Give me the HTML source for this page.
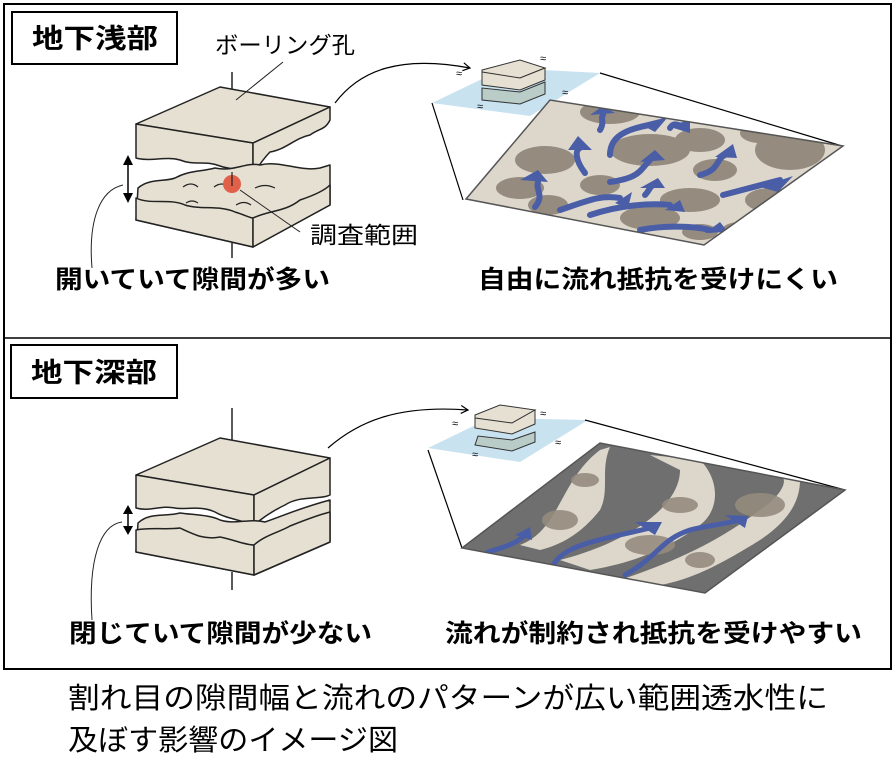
<!DOCTYPE html>
<html><head><meta charset="utf-8"><style>
html,body{margin:0;padding:0;background:#fff;}
svg{display:block;}
text{font-family:"Liberation Sans","Noto Sans CJK JP",sans-serif;}
</style></head><body>
<svg width="895" height="757" viewBox="0 0 895 757" xmlns="http://www.w3.org/2000/svg">
<defs>
<marker id="ah" markerWidth="10" markerHeight="10" refX="8" refY="5" orient="auto" markerUnits="userSpaceOnUse"><path d="M1,1 L8,5 L1,9" fill="none" stroke="#000" stroke-width="1.2"/></marker>
<clipPath id="c1"><path d="M466,199 L550,100 L843,146 L704,245 Z"/></clipPath>
<clipPath id="c2"><path d="M462,548 L600,443 L845,490 L705,593 Z"/></clipPath>
</defs>
<rect x="4" y="4" width="887" height="665" fill="#fff" stroke="#000" stroke-width="2"/>
<line x1="4" y1="338" x2="891" y2="338" stroke="#000" stroke-width="1.5"/>
<rect x="12" y="12" width="165" height="52" fill="#fff" stroke="#000" stroke-width="2"/>
<text x="32" y="48" font-size="27" font-weight="bold" textLength="126" lengthAdjust="spacingAndGlyphs">地下浅部</text>
<rect x="11" y="345" width="166" height="53" fill="#fff" stroke="#000" stroke-width="2"/>
<text x="31" y="382" font-size="27" font-weight="bold" textLength="126" lengthAdjust="spacingAndGlyphs">地下深部</text>

<!-- TOP blocks -->
<g stroke="#222" stroke-width="1.5" fill="#e6e0d2" stroke-linejoin="round">
<line x1="232" y1="72" x2="232" y2="120" stroke="#222"/>
<path d="M136,124 L220,87 L330,107 L253,143 Z"/>
<path d="M136,124 L253,143 L253,173 C240,168 230,170 220,166 C205,160 195,166 180,160 C165,156 150,162 136,158 Z"/>
<path d="M253,143 L330,107 L330,120 C325,130 320,128 310,135 C295,138 285,150 270,152 C262,160 258,168 253,173 Z"/>
<path d="M138,188 C150,178 165,182 175,178 C190,170 200,172 215,168 C235,172 245,162 260,165 C280,160 300,172 320,168 L330,165 L330,205 L253,247 L136,220 Z"/>
<path d="M136,198 C150,205 170,198 185,205 C200,210 220,205 235,212 C245,215 250,218 253,218 L253,247 L136,220 Z"/>
<path d="M253,218 C270,210 285,212 300,200 C315,195 325,190 330,185 L330,205 L253,247 Z"/>
<line x1="232" y1="243" x2="232" y2="258"/>
</g>
<g fill="none" stroke="#222" stroke-width="1.2">
<path d="M183,187 q8,-6 15,0"/><path d="M214,187 q8,-6 15,0"/><path d="M255,188 q10,-5 20,0"/><path d="M236,205 q8,-5 15,0"/><path d="M186,203 q6,-4 12,0"/>
</g>
<circle cx="232" cy="184" r="9" fill="#e0604a"/>
<line x1="232" y1="172" x2="232" y2="186" stroke="#222" stroke-width="1.2"/>
<line x1="240" y1="190" x2="300" y2="232" stroke="#222" stroke-width="1"/>
<line x1="236" y1="100" x2="283" y2="62" stroke="#222" stroke-width="1"/>
<path d="M128,158 L128,200" stroke="#000" stroke-width="1.5"/>
<path d="M123,165 L128,155 L133,165Z M123,193 L128,203 L133,193Z" fill="#000"/>
<path d="M123,185 C100,190 88,220 92,268" fill="none" stroke="#222" stroke-width="1"/>
<path d="M335,103 C360,70 400,55 470,68" fill="none" stroke="#000" stroke-width="1.2" marker-end="url(#ah)"/>
<text x="215" y="53" font-size="23" textLength="140" lengthAdjust="spacingAndGlyphs">ボーリング孔</text>
<text x="310" y="243" font-size="23" textLength="108" lengthAdjust="spacingAndGlyphs">調査範囲</text>

<!-- top right -->
<path d="M432,103 L505,68 L600,73 L530,116 Z" fill="#c8e2f0"/>
<path d="M482,70 L520,60 L545,68 L520,78 L482,75Z" fill="#e6e0d2" stroke="#333" stroke-width="1"/>
<path d="M482,72 L482,85 L520,90 L545,80 L545,68 L520,78 Z" fill="#e6e0d2" stroke="#333" stroke-width="1"/>
<path d="M482,88 L482,100 L520,104 L545,94 L545,82 L520,92 Z" fill="#b9ccc8" stroke="#333" stroke-width="1"/>
<line x1="432" y1="103" x2="463" y2="200" stroke="#000" stroke-width="1.2"/>
<line x1="600" y1="73" x2="842" y2="146" stroke="#000" stroke-width="1.2"/>
<path d="M466,199 L550,100 L843,146 L704,245 Z" fill="#ddd7cb"/>
<g clip-path="url(#c1)">
<g fill="#958b7e">
<ellipse cx="520" cy="188" rx="24" ry="11"/><ellipse cx="548" cy="205" rx="20" ry="10"/><ellipse cx="545" cy="160" rx="30" ry="14"/><ellipse cx="600" cy="185" rx="20" ry="10"/>
<ellipse cx="610" cy="112" rx="30" ry="12"/><ellipse cx="650" cy="150" rx="40" ry="16"/><ellipse cx="650" cy="218" rx="30" ry="12"/><ellipse cx="690" cy="200" rx="30" ry="12"/>
<ellipse cx="700" cy="140" rx="25" ry="12"/><ellipse cx="715" cy="170" rx="22" ry="11"/><ellipse cx="760" cy="133" rx="20" ry="10"/><ellipse cx="790" cy="150" rx="35" ry="20"/>
<ellipse cx="770" cy="200" rx="25" ry="12"/><ellipse cx="700" cy="232" rx="18" ry="8"/><ellipse cx="740" cy="230" rx="18" ry="8"/>
</g>
<g fill="none" stroke="#4a5ea8" stroke-width="6" stroke-linecap="round">
<path d="M535,207 C545,195 535,190 538,182"/><path d="M560,210 C590,200 600,195 620,198"/><path d="M590,215 C620,205 650,203 670,205"/>
<path d="M585,173 C575,160 575,150 580,148"/><path d="M610,182 C640,178 640,170 650,160"/><path d="M610,155 C610,140 620,130 650,125"/>
<path d="M600,130 C605,122 600,118 603,115"/><path d="M670,128 C675,120 680,128 685,126"/><path d="M700,175 C720,170 715,160 725,155"/>
<path d="M723,195 L780,180"/><path d="M640,230 C660,226 690,225 710,230"/><path d="M645,195 C650,190 650,185 655,185"/>
</g>
<g fill="#4a5ea8">
<path d="M520,180 L538,170 L548,182Z"/><path d="M568,150 L578,136 L592,150Z"/><path d="M590,115 L603,106 L615,113Z"/><path d="M640,124 L668,117 L655,132Z"/>
<path d="M670,127 L690,119 L690,133Z"/><path d="M640,162 L655,150 L665,160Z"/><path d="M715,157 L733,144 L737,158Z"/><path d="M760,187 L793,176 L778,192Z"/>
<path d="M615,203 L632,192 L628,208Z"/><path d="M665,210 L680,200 L685,212Z"/><path d="M640,188 L658,178 L665,188Z"/><path d="M705,233 L720,222 L728,232Z"/>
</g>
</g>
<path d="M466,199 L550,100 L843,146 L704,245 Z" fill="none" stroke="#555" stroke-width="1.5"/>
<text x="456" y="77" font-size="11">≈</text><text x="540" y="62" font-size="11">≈</text><text x="562" y="96" font-size="11">≈</text><text x="477" y="110" font-size="11">≈</text>

<!-- BOTTOM blocks -->
<g stroke="#222" stroke-width="1.5" fill="#e6e0d2" stroke-linejoin="round">
<line x1="232" y1="408" x2="232" y2="460"/>
<path d="M136,475 L220,438 L330,458 L254,495 Z"/>
<path d="M136,475 L254,495 L254,525 C240,520 225,518 215,512 C200,505 185,510 175,508 C160,505 150,512 136,508 Z"/>
<path d="M254,495 L330,458 L330,495 C320,500 300,495 285,505 C270,512 260,520 254,525 Z"/>
<path d="M138,523 C150,512 165,517 180,513 C195,515 210,515 220,520 C235,525 250,518 265,522 C285,515 300,508 330,500 L330,542 L254,575 L136,552 Z"/>
<path d="M136,530 C150,527 165,530 180,528 C195,535 205,540 220,537 C235,540 245,545 254,545 L254,575 L136,552 Z"/>
<path d="M254,545 C265,535 280,532 290,526 C305,520 318,515 330,512 L330,542 L254,575 Z"/>
<line x1="232" y1="572" x2="232" y2="590"/>
</g>
<path d="M128,510 L128,530" stroke="#000" stroke-width="1.5"/>
<path d="M123,514 L128,505 L133,514Z M123,526 L128,535 L133,526Z" fill="#000"/>
<path d="M122,522 C100,525 88,560 92,620" fill="none" stroke="#222" stroke-width="1"/>
<path d="M328,448 C360,420 400,405 468,410" fill="none" stroke="#000" stroke-width="1.2" marker-end="url(#ah)"/>

<path d="M428,448 L490,418 L588,420 L520,462 Z" fill="#c8e2f0"/>
<path d="M475,415 L500,405 L535,410 L512,423 L475,420Z" fill="#e6e0d2" stroke="#333" stroke-width="1"/>
<path d="M475,418 L475,428 L512,434 L535,424 L535,410 L512,423 Z" fill="#e6e0d2" stroke="#333" stroke-width="1"/>
<path d="M478,436 L475,445 L512,451 L535,442 L535,432 L512,440 Z" fill="#b9ccc8" stroke="#333" stroke-width="1"/>
<line x1="428" y1="450" x2="462" y2="548" stroke="#000" stroke-width="1.2"/>
<line x1="585" y1="420" x2="845" y2="490" stroke="#000" stroke-width="1.2"/>
<path d="M462,548 L600,443 L845,490 L705,593 Z" fill="#6f6f6f"/>
<g clip-path="url(#c2)">
<path d="M520,545 C560,530 560,480 600,450 L610,447 C600,470 610,490 600,510 C580,535 560,545 540,550 Z" fill="#ddd7cb"/>
<path d="M560,560 C620,545 680,510 680,470 L650,455 L700,460 C720,480 720,510 700,525 C660,555 620,565 590,570 Z" fill="#ddd7cb"/>
<path d="M620,580 C680,560 720,540 760,510 C790,490 790,470 770,475 L800,480 C800,500 790,520 760,540 C720,565 690,580 660,585 Z" fill="#ddd7cb"/>
<g fill="#958b7e" opacity="0.9">
<ellipse cx="560" cy="520" rx="18" ry="10"/><ellipse cx="585" cy="480" rx="14" ry="7"/><ellipse cx="650" cy="545" rx="25" ry="10"/><ellipse cx="680" cy="505" rx="18" ry="8"/>
<ellipse cx="760" cy="505" rx="25" ry="12"/><ellipse cx="700" cy="560" rx="15" ry="8"/>
</g>
<g fill="none" stroke="#4a5ea8" stroke-width="5" stroke-linecap="round">
<path d="M488,552 C500,548 515,545 525,535"/><path d="M552,568 C560,545 600,540 650,528"/><path d="M625,575 C660,555 660,540 690,530 C710,525 720,525 740,520"/>
</g>
<g fill="#4a5ea8"><path d="M515,535 L530,527 L532,540Z"/><path d="M635,522 L662,522 L655,535Z"/><path d="M725,515 L748,516 L745,528Z"/></g>
</g>
<path d="M462,548 L600,443 L845,490 L705,593 Z" fill="none" stroke="#555" stroke-width="1.5"/>
<text x="452" y="427" font-size="11">≈</text><text x="540" y="417" font-size="11">≈</text><text x="555" y="446" font-size="11">≈</text><text x="472" y="458" font-size="11">≈</text>

<!-- labels -->
<g font-weight="bold" font-size="25">
<text x="55" y="288" textLength="275" lengthAdjust="spacingAndGlyphs">開いていて隙間が多い</text>
<text x="478" y="288" textLength="360" lengthAdjust="spacingAndGlyphs">自由に流れ抵抗を受けにくい</text>
<text x="69" y="642" textLength="303" lengthAdjust="spacingAndGlyphs">閉じていて隙間が少ない</text>
<text x="445" y="642" textLength="417" lengthAdjust="spacingAndGlyphs">流れが制約され抵抗を受けやすい</text>
</g>
<text x="68" y="708" font-size="29" textLength="760" lengthAdjust="spacingAndGlyphs">割れ目の隙間幅と流れのパターンが広い範囲透水性に</text>
<text x="68" y="750" font-size="29" textLength="330" lengthAdjust="spacingAndGlyphs">及ぼす影響のイメージ図</text>
</svg>
</body></html>
